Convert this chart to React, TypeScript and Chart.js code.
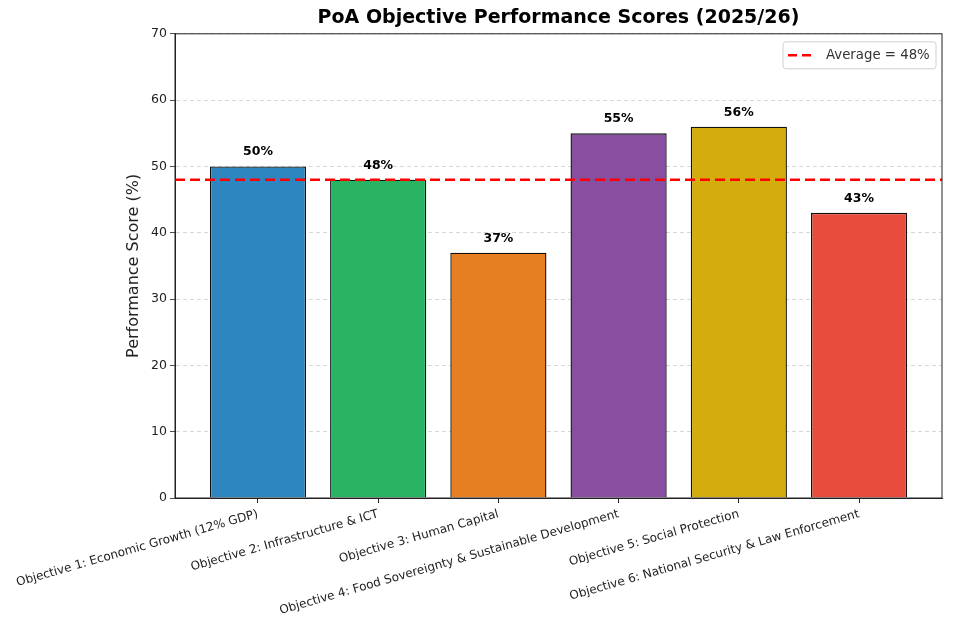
import React, { useEffect, useRef } from "react";
import { Chart, registerables } from "chart.js";

Chart.register(...registerables);

const objectives = [
  "Objective 1: Economic Growth (12% GDP)",
  "Objective 2: Infrastructure & ICT",
  "Objective 3: Human Capital",
  "Objective 4: Food Sovereignty & Sustainable Development",
  "Objective 5: Social Protection",
  "Objective 6: National Security & Law Enforcement",
];
const scores = [50, 48, 37, 55, 56, 43];
const barColors = ["#2e86c1", "#28b463", "#e67e22", "#884ea0", "#d4ac0d", "#e74c3c"];
const average = 48;
const yTicks = [0, 10, 20, 30, 40, 50, 60, 70];

const X_MIN = -0.69;
const X_MAX = 5.69;

// frame, value labels and the legend box
const extras = {
  id: "extras",
  afterDatasetsDraw(chart: any) {
    const { ctx, chartArea, scales } = chart;
    ctx.save();
    ctx.strokeStyle = "#222";
    ctx.lineWidth = 1;
    ctx.strokeRect(chartArea.left, chartArea.top, chartArea.right - chartArea.left, chartArea.bottom - chartArea.top);

    ctx.fillStyle = "#000";
    ctx.font = "bold 12.5px 'DejaVu Sans'";
    ctx.textAlign = "center";
    ctx.textBaseline = "bottom";
    scores.forEach((v, i) => {
      ctx.fillText(`${v}%`, scales.x.getPixelForValue(i), scales.y.getPixelForValue(v + 1.2));
    });

    const w = 153;
    const h = 27;
    const bx = chartArea.right - 6 - w;
    const by = chartArea.top + 8;
    ctx.beginPath();
    ctx.roundRect(bx, by, w, h, 3);
    ctx.fillStyle = "rgba(255,255,255,0.85)";
    ctx.fill();
    ctx.strokeStyle = "#d0d0d0";
    ctx.lineWidth = 1;
    ctx.stroke();
    ctx.beginPath();
    ctx.setLineDash([9, 5]);
    ctx.strokeStyle = "#ff0000";
    ctx.lineWidth = 2.5;
    ctx.moveTo(bx + 5, by + h / 2);
    ctx.lineTo(bx + 31, by + h / 2);
    ctx.stroke();
    ctx.setLineDash([]);
    ctx.fillStyle = "#333";
    ctx.font = "13.3px 'DejaVu Sans'";
    ctx.textAlign = "left";
    ctx.textBaseline = "middle";
    ctx.fillText(`Average = ${average}%`, bx + 43, by + h / 2 + 0.5);
    ctx.restore();
  },
};

const App: React.FC = () => {
  const chartRef = useRef<HTMLCanvasElement | null>(null);
  const chartInstance = useRef<Chart | null>(null);

  useEffect(() => {
    document.body.style.margin = "0";
    if (chartRef.current) {
      if (chartInstance.current) {
        chartInstance.current.destroy();
      }
      Chart.defaults.font.family = "'DejaVu Sans'";
      const ctx = chartRef.current.getContext("2d");
      if (ctx) {
        chartInstance.current = new Chart(ctx, {
          type: "bar",
          data: {
            datasets: [
              {
                type: "line",
                label: `Average = ${average}%`,
                data: [
                  { x: X_MIN, y: average },
                  { x: X_MAX, y: average },
                ],
                borderColor: "#ff0000",
                borderWidth: 2.5,
                borderDash: [10, 5],
                pointRadius: 0,
                order: 0,
              } as any,
              {
                type: "bar",
                label: "Score",
                data: scores.map((v, i) => ({ x: i, y: v })),
                backgroundColor: barColors,
                borderColor: "#111",
                borderWidth: 1.4,
                barPercentage: 0.8,
                categoryPercentage: 1,
                order: 1,
              },
            ],
          },
          options: {
            animation: false,
            responsive: true,
            maintainAspectRatio: false,
            layout: { padding: { left: 120, right: 12, top: 0, bottom: 0 } },
            plugins: {
              legend: { display: false },
              tooltip: { enabled: false },
              title: {
                display: true,
                fullSize: false,
                text: "PoA Objective Performance Scores (2025/26)",
                color: "#000",
                font: { size: 19, weight: "bold" },
                padding: { top: 7, bottom: 4 },
              },
            },
            scales: {
              x: {
                type: "linear",
                offset: false,
                min: X_MIN,
                max: X_MAX,
                afterBuildTicks: (axis: any) => {
                  axis.ticks = objectives.map((_, i) => ({ value: i }));
                },
                afterFit: (s: any) => {
                  s.height = 141;
                  s.paddingLeft = 0;
                  s.paddingRight = 0;
                },
                ticks: {
                  autoSkip: false,
                  minRotation: 16,
                  maxRotation: 16,
                  padding: 4,
                  color: "#222",
                  font: { size: 12 },
                  callback: (value: any) => objectives[value] ?? "",
                },
                grid: {
                  offset: false,
                  drawOnChartArea: false,
                  drawTicks: true,
                  tickLength: 5,
                  tickColor: "#222",
                },
                border: { color: "#222", width: 1 },
              },
              y: {
                min: 0,
                max: 70,
                afterBuildTicks: (axis: any) => {
                  axis.ticks = yTicks.map((v) => ({ value: v }));
                },
                afterFit: (s: any) => {
                  s.width = 55;
                },
                ticks: {
                  padding: 3,
                  color: "#222",
                  font: { size: 12.5 },
                },
                title: {
                  display: true,
                  text: "Performance Score (%)",
                  color: "#222",
                  font: { size: 16 },
                  padding: { top: 4, bottom: 4 },
                },
                grid: {
                  color: "rgba(0,0,0,0.2)",
                  lineWidth: 0.8,
                  tickLength: 5,
                  tickColor: "#222",
                  tickBorderDash: [],
                },
                border: { color: "#222", width: 1, dash: [4, 3] },
              },
            },
          },
          plugins: [extras],
        });
      }
    }

    return () => {
      if (chartInstance.current) {
        chartInstance.current.destroy();
        chartInstance.current = null;
      }
    };
  }, []);

  return (
    <div style={{ position: "fixed", left: 0, top: 0, width: 954, height: 639, background: "#fff" }}>
      <canvas ref={chartRef}></canvas>
    </div>
  );
};

export default App;
